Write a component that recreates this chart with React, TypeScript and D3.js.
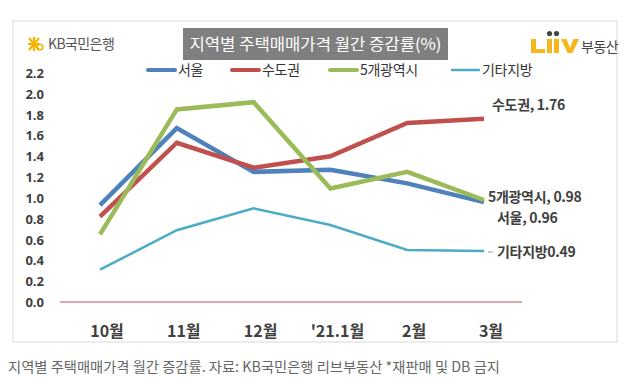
import * as d3 from 'd3';

const months = ['10월', '11월', '12월', "'21.1월", '2월', '3월'];
const seoul = [0.93, 1.67, 1.25, 1.27, 1.14, 0.96];
const capital = [0.82, 1.53, 1.29, 1.40, 1.72, 1.76];
const metro5 = [0.65, 1.85, 1.92, 1.09, 1.25, 0.98];
const others = [0.31, 0.69, 0.90, 0.74, 0.50, 0.49];
const yTicks = [0, 0.2, 0.4, 0.6, 0.8, 1.0, 1.2, 1.4, 1.6, 1.8, 2.0, 2.2];

const series = [
  { name: '서울', values: seoul, color: '#4f81bd', width: 4.5, label: '서울, 0.96', dx: 13, dy: 21 },
  { name: '수도권', values: capital, color: '#c0504d', width: 4.5, label: '수도권, 1.76', dx: 8, dy: -9 },
  { name: '5개광역시', values: metro5, color: '#9bbb59', width: 4.5, label: '5개광역시, 0.98', dx: 4, dy: 2 },
  { name: '기타지방', values: others, color: '#4bacc6', width: 2.5, label: '기타지방0.49', dx: 13, dy: 6 },
];

const kr = '"Noto Sans CJK KR", "Noto Sans", sans-serif';

export default function App() {
  const W = 628;
  const H = 384;
  const x = d3.scalePoint<string>().domain(months).range([100, 484]);
  const y = d3.scaleLinear().domain([0, 2.2]).range([302, 73]);

  const line = d3
    .line<number>()
    .x((_, i) => x(months[i]) ?? 0)
    .y((d) => y(d));

  const lastX = x(months[months.length - 1]) ?? 0;
  const legendX = [148, 232, 330, 452];

  return (
    <div style={{ position: 'absolute', left: 0, top: 0 }}>
      <svg width={W} height={H} style={{ display: 'block', background: '#fff' }}>
        {/* frame */}
        <rect x={13} y={21} width={604} height={321} fill="#fff" stroke="#e6e6e6" strokeWidth={1.5} />

        {/* KB logo */}
        <g transform="translate(29,44)">
          <path d="M0,-6 L5,0 L0,6 M5,-7 L5,7 M10,-6 L5,0 L10,6 M-1,0 L11,0" stroke="#f5b400" strokeWidth={2.2} fill="none" />
          <circle cx={11} cy={3} r={2.8} fill="none" stroke="#f5b400" strokeWidth={1.6} />
          <text x={19} y={5} fontFamily={kr} fontSize={14} fill="#555" letterSpacing={-0.6}>KB국민은행</text>
        </g>

        {/* Liiv logo */}
        <g transform="translate(531,53)">
          <path d="M0,-14 h5 v10 h9 v4 h-14 z" fill="#f5b71c" />
          <rect x={16} y={-14} width={5} height={14} fill="#f5b71c" />
          <rect x={23} y={-14} width={5} height={14} fill="#f5b71c" />
          <path d="M30,-14 h5.5 l3.5,9 l3.5,-9 h5.5 l-6.5,14 h-5 z" fill="#f5b71c" />
          <circle cx={18.5} cy={-19.5} r={2.6} fill="#444" />
          <circle cx={25.5} cy={-19.5} r={2.6} fill="#444" />
          <text x={50} y={-1} fontFamily={kr} fontSize={14} fill="#444" letterSpacing={-0.5}>부동산</text>
        </g>

        {/* title */}
        <rect x={183} y={28} width={265} height={32} fill="#7f7f7f" />
        <text x={315.5} y={50} textAnchor="middle" fontFamily={kr} fontSize={16} fill="#fff" textLength={252} lengthAdjust="spacingAndGlyphs">
          지역별 주택매매가격 월간 증감률(%)
        </text>

        {/* legend */}
        {series.map((s, i) => (
          <g key={s.name}>
            <line x1={legendX[i]} x2={legendX[i] + 27} y1={70} y2={70} stroke={s.color} strokeWidth={s.width === 2.5 ? 2.5 : 4} strokeLinecap="round" />
            <text x={legendX[i] + 30} y={75} fontFamily={kr} fontSize={14} fill="#333" letterSpacing={-0.3}>{s.name}</text>
          </g>
        ))}

        {/* y axis labels */}
        {yTicks.map((t) => (
          <text key={t} x={44} y={y(t) + 5} textAnchor="end" fontFamily='"Open Sans", sans-serif' fontWeight="bold" fontSize={13} fill="#404040">
            {t.toFixed(1)}
          </text>
        ))}

        {/* zero line */}
        <line x1={60} x2={522} y1={y(0)} y2={y(0)} stroke="#c0504d" strokeWidth={1} />

        {/* x labels */}
        {months.map((m) => (
          <text key={m} x={(x(m) ?? 0) + 7} y={337} textAnchor="middle" fontFamily={kr} fontWeight="bold" fontSize={16} fill="#404040">
            {m}
          </text>
        ))}

        {/* series lines */}
        {series.map((s) => (
          <path key={s.name} d={line(s.values) ?? ''} fill="none" stroke={s.color} strokeWidth={s.width} strokeLinejoin="miter" />
        ))}

        {/* end labels */}
        {series.map((s) => {
          const v = s.values[s.values.length - 1];
          return (
            <g key={s.name}>
              {s.name === '기타지방' && (
                <line x1={lastX + 4} x2={lastX + 9} y1={y(v) + 1} y2={y(v) + 1} stroke="#999" strokeWidth={1} />
              )}
              <text x={lastX + s.dx} y={y(v) + s.dy} fontFamily={kr} fontWeight="bold" fontSize={14} fill="#404040" letterSpacing={-0.3}>
                {s.label}
              </text>
            </g>
          );
        })}

        {/* caption */}
        <text x={8} y={372} fontFamily={kr} fontSize={14} fill="#666" textLength={492} lengthAdjust="spacingAndGlyphs">
          지역별 주택매매가격 월간 증감률. 자료: KB국민은행 리브부동산 *재판매 및 DB 금지
        </text>
      </svg>
    </div>
  );
}
